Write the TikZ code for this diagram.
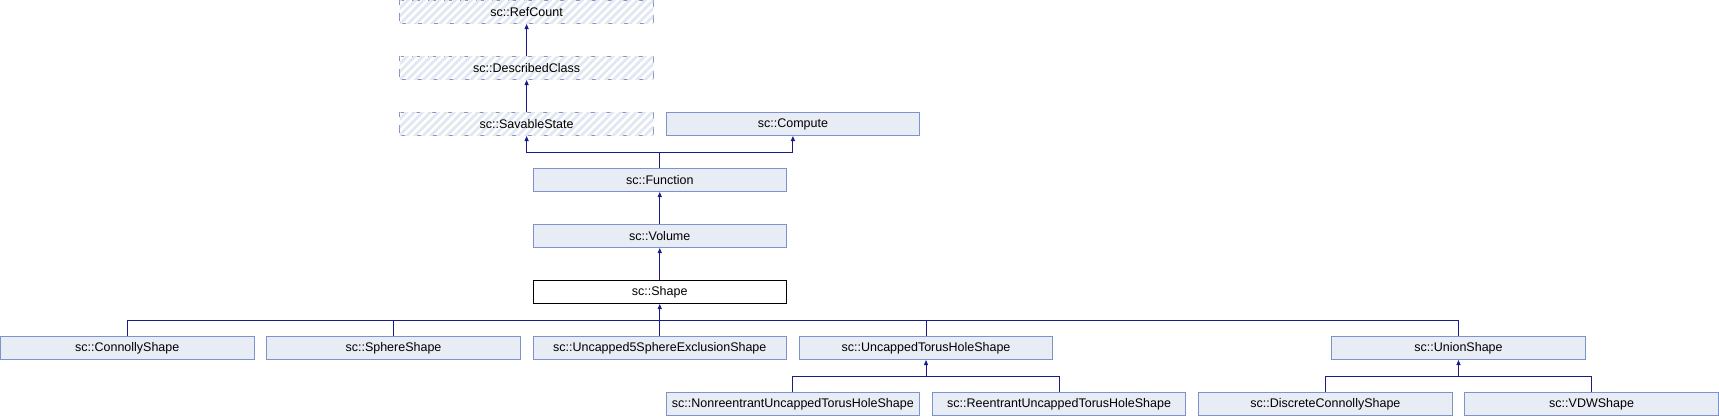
\documentclass[tikz,border=0pt]{standalone}
\usepackage{fontspec}
\setmainfont{Liberation Sans}
\usetikzlibrary{arrows.meta,patterns.meta}
\definecolor{boxfill}{HTML}{E8ECF4}
\definecolor{boxdraw}{HTML}{7D93CB}
\definecolor{hatch}{HTML}{E2E7F1}
\definecolor{edgecol}{HTML}{1A1A8A}
\tikzset{
  lbl/.style={font=\fontsize{12.5}{15}\selectfont},
  cls/.style={draw=boxdraw, fill=boxfill, line width=1pt, minimum width=253.5pt, minimum height=23pt, inner sep=0pt, lbl},
  undoc/.style={draw=boxdraw, fill=white, line width=1pt, dash pattern=on 8pt off 8pt, dash phase=2pt,
    postaction={pattern={Lines[angle=45,distance=5.6pt,line width=2.8pt]}, pattern color=hatch},
    minimum width=253.5pt, minimum height=23pt, inner sep=0pt},
  cur/.style={draw=black, fill=white, line width=1pt, minimum width=253.5pt, minimum height=23pt, inner sep=0pt, lbl},
  link/.style={draw=edgecol, line width=1pt},
  inh/.style={link, -{Triangle[length=5pt,width=4pt]}},
}
\begin{document}
\begin{tikzpicture}[x=1pt,y=-1pt]
\useasboundingbox (0,0) rectangle (1719,416);
% undocumented bases (hatching drawn under text)
\node[undoc] (ref) at (526.6,12) {};
\node[lbl] (reft) at (ref) {sc::RefCount};
\node[undoc] (desc) at (526.6,68) {};
\node[lbl] (desct) at (desc) {sc::DescribedClass};
\node[undoc] (sav) at (526.6,124) {};
\node[lbl] (savt) at (sav) {sc::SavableState};
\node[cls] (comp) at (792.9,124) {sc::Compute};
\node[cls] (fn) at (659.75,180) {sc::Function};
\node[cls] (vol) at (659.75,236) {sc::Volume};
\node[cur] (shape) at (659.75,292) {sc::Shape};
% row 7
\node[cls] (conn) at (127.25,348) {sc::ConnollyShape};
\node[cls] (sph) at (393.5,348) {sc::SphereShape};
\node[cls] (unc5) at (659.75,348) {sc::Uncapped5SphereExclusionShape};
\node[cls] (torus) at (926,348) {sc::UncappedTorusHoleShape};
\node[cls] (union) at (1458.5,348) {sc::UnionShape};
% row 8
\node[cls] (nonre) at (792.9,404) {sc::NonreentrantUncappedTorusHoleShape};
\node[cls] (reent) at (1059.1,404) {sc::ReentrantUncappedTorusHoleShape};
\node[cls] (disc) at (1325.4,404) {sc::DiscreteConnollyShape};
\node[cls] (vdw) at (1591.6,404) {sc::VDWShape};
% connectors
\draw[inh] (desc.north) -- (ref.south);
\draw[inh] (sav.north) -- (desc.south);
\coordinate (j1) at (659.75,152);
\draw[link] (fn.north) -- (j1);
\draw[inh] (j1) -| (sav.south);
\draw[inh] (j1) -| (comp.south);
\draw[inh] (vol.north) -- (fn.south);
\draw[inh] (shape.north) -- (vol.south);
\coordinate (j2) at (659.75,320);
\draw[inh] (j2) -- (shape.south);
\draw[link] (conn.north) |- (j2);
\draw[link] (sph.north) |- (j2);
\draw[link] (unc5.north) -- (j2);
\draw[link] (torus.north) |- (j2);
\draw[link] (union.north) |- (j2);
\coordinate (j3) at (926,376);
\draw[inh] (j3) -- (torus.south);
\draw[link] (nonre.north) |- (j3);
\draw[link] (reent.north) |- (j3);
\coordinate (j4) at (1458.5,376);
\draw[inh] (j4) -- (union.south);
\draw[link] (disc.north) |- (j4);
\draw[link] (vdw.north) |- (j4);
\end{tikzpicture}
\end{document}
